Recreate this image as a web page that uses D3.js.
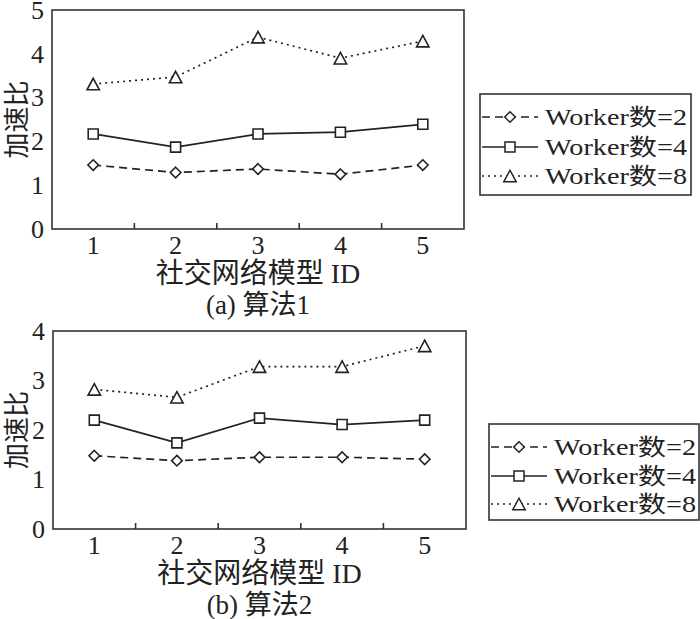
<!DOCTYPE html>
<html>
<head>
<meta charset="utf-8">
<script src="https://cdn.jsdelivr.net/npm/d3@7"></script>
<style>
  body { margin: 0; background: #fff; }
  text { font-family: 'Liberation Serif', 'Noto Sans CJK SC', serif; fill: #222; }
</style>
</head>
<body>
<div id="chart"></div>
<script>
let ids = ['1', '2', '3', '4', '5']
let seriesNames = ['Worker数=2', 'Worker数=4', 'Worker数=8']

// panel (a) 算法1
let algo1Workers2 = [1.46, 1.29, 1.37, 1.25, 1.46]
let algo1Workers4 = [2.17, 1.87, 2.17, 2.21, 2.39]
let algo1Workers8 = [3.31, 3.47, 4.38, 3.9, 4.29]

// panel (b) 算法2
let algo2Workers2 = [1.48, 1.38, 1.45, 1.45, 1.41]
let algo2Workers4 = [2.2, 1.74, 2.24, 2.11, 2.2]
let algo2Workers8 = [2.82, 2.66, 3.28, 3.28, 3.7]

// square-ish diamond and wide triangle, like the printed figure
let diamondType = {
  draw(ctx, size) {
    let r = Math.sqrt(size)
    ctx.moveTo(0, -r)
    ctx.lineTo(r, 0)
    ctx.lineTo(0, r)
    ctx.lineTo(-r, 0)
    ctx.closePath()
  }
}
let triangleType = {
  draw(ctx, size) {
    let r = Math.sqrt(size)
    ctx.moveTo(0, -r)
    ctx.lineTo(r * 1.08, r)
    ctx.lineTo(-r * 1.08, r)
    ctx.closePath()
  }
}

let styles = [
  { dash: '8,5', symbol: diamondType, size: 28 },
  { dash: null, symbol: d3.symbolSquare, size: 100 },
  { dash: '2,4', symbol: triangleType, size: 33 }
]

let svg = d3
  .select('#chart')
  .append('svg')
  .attr('width', 700)
  .attr('height', 619)

function drawPanel(opts) {
  let x = d3.scaleBand().domain(ids).range([opts.left, opts.right])
  let y = d3.scaleLinear().domain([0, opts.yMax]).range([opts.bottom, opts.top])
  let g = svg.append('g')

  // frame
  g.append('rect')
    .attr('x', opts.left)
    .attr('y', opts.top)
    .attr('width', opts.right - opts.left)
    .attr('height', opts.bottom - opts.top)
    .attr('fill', 'none')
    .attr('stroke', '#333')
    .attr('stroke-width', 1.6)

  // inner ticks between categories
  g.selectAll('.xtick')
    .data(ids.slice(0, ids.length - 1))
    .enter()
    .append('line')
    .attr('x1', d => x(d) + x.bandwidth())
    .attr('x2', d => x(d) + x.bandwidth())
    .attr('y1', opts.bottom)
    .attr('y2', opts.bottom - 6)
    .attr('stroke', '#333')
    .attr('stroke-width', 1.6)

  let xAxis = g.append('g')
    .attr('transform', 'translate(0,' + opts.bottom + ')')
    .call(d3.axisBottom(x).tickSize(0).tickPadding(7))
  xAxis.select('.domain').remove()
  xAxis.selectAll('text').attr('font-size', 26).attr('font-family', 'Liberation Serif')

  let yAxis = g.append('g')
    .attr('transform', 'translate(' + opts.left + ',0)')
    .call(d3.axisLeft(y).ticks(opts.yMax).tickSize(0).tickPadding(8).tickFormat(d3.format('d')))
  yAxis.select('.domain').remove()
  yAxis.selectAll('text').attr('font-size', 26).attr('font-family', 'Liberation Serif')

  // lines + markers
  opts.series.forEach((vals, si) => {
    let st = styles[si]
    let line = d3.line()
      .x((d, i) => x(ids[i]) + x.bandwidth() / 2)
      .y(d => y(d))
    g.append('path')
      .datum(vals)
      .attr('d', line)
      .attr('fill', 'none')
      .attr('stroke', '#222')
      .attr('stroke-width', 1.7)
      .attr('stroke-dasharray', st.dash)

    g.selectAll('.pt' + si)
      .data(vals)
      .enter()
      .append('path')
      .attr('d', d3.symbol().type(st.symbol).size(st.size))
      .attr('transform', (d, i) => `translate(${x(ids[i]) + x.bandwidth() / 2},${y(d)})`)
      .attr('fill', '#fff')
      .attr('stroke', '#222')
      .attr('stroke-width', 1.6)
  })

  // axis titles
  g.append('text')
    .attr('transform', `translate(${opts.ylabelX},${(opts.top + opts.bottom) / 2}) rotate(-90)`)
    .attr('text-anchor', 'middle')
    .attr('dominant-baseline', 'central')
    .attr('font-size', 26)
    .text('加速比')

  g.append('text')
    .attr('x', (opts.left + opts.right) / 2)
    .attr('y', opts.bottom + 54)
    .attr('text-anchor', 'middle')
    .attr('font-size', 28)
    .text('社交网络模型 ID')

  g.append('text')
    .attr('x', (opts.left + opts.right) / 2)
    .attr('y', opts.bottom + 85)
    .attr('text-anchor', 'middle')
    .attr('font-size', 27)
    .text(opts.caption)

  // legend
  let lg = g.append('g')
  lg.append('rect')
    .attr('x', opts.legend.x)
    .attr('y', opts.legend.y)
    .attr('width', opts.legend.w)
    .attr('height', opts.legend.h)
    .attr('fill', '#fff')
    .attr('stroke', '#333')
    .attr('stroke-width', 1.6)

  seriesNames.forEach((name, si) => {
    let st = styles[si]
    let cy = opts.legend.y + opts.legend.rows[si]
    let lx = opts.legend.x + 2
    lg.append('line')
      .attr('x1', lx)
      .attr('x2', lx + 56)
      .attr('y1', cy)
      .attr('y2', cy)
      .attr('stroke', '#222')
      .attr('stroke-width', 1.5)
      .attr('stroke-dasharray', st.dash)
    lg.append('path')
      .attr('d', d3.symbol().type(st.symbol).size(st.size))
      .attr('transform', `translate(${lx + 28},${cy})`)
      .attr('fill', '#fff')
      .attr('stroke', '#222')
      .attr('stroke-width', 1.5)
    lg.append('text')
      .attr('x', lx + 63)
      .attr('y', cy + 8)
      .attr('font-size', 23)
      .attr('textLength', 142)
      .attr('lengthAdjust', 'spacingAndGlyphs')
      .text(name)
  })
}

drawPanel({
  left: 52, right: 464, top: 10, bottom: 229, yMax: 5,
  ylabelX: 17,
  caption: '(a) 算法1',
  series: [algo1Workers2, algo1Workers4, algo1Workers8],
  legend: { x: 480, y: 94, w: 211, h: 101, rows: [23, 53, 82] }
})

drawPanel({
  left: 53, right: 466, top: 331, bottom: 529, yMax: 4,
  ylabelX: 17,
  caption: '(b) 算法2',
  series: [algo2Workers2, algo2Workers4, algo2Workers8],
  legend: { x: 489, y: 424, w: 210, h: 96, rows: [23, 52, 80] }
})
</script>
</body>
</html>
